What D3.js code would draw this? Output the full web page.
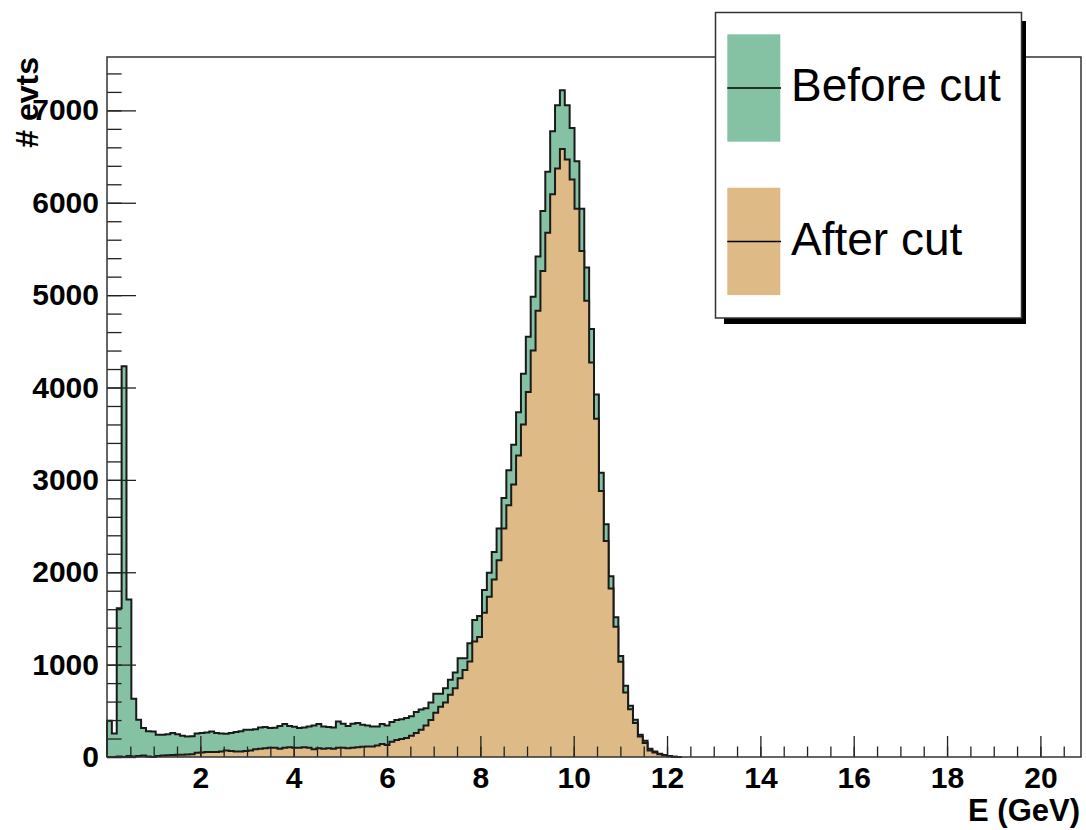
<!DOCTYPE html>
<html>
<head>
<meta charset="utf-8">
<script src="https://cdn.jsdelivr.net/npm/d3@7/dist/d3.min.js"></script>
<style>
  html, body { margin: 0; padding: 0; background: #ffffff; }
  svg { display: block; }
  text { font-family: "Liberation Sans", Arial, Helvetica, sans-serif; }
</style>
</head>
<body>
<svg id="chart" width="1086" height="830"></svg>
<script>
// ---------------- data ----------------
const xMin = 0, xMax = 20.87, nBins = 200;
const seriesNames = ["Before cut", "After cut"];
// bin contents (bins 0..117, remaining bins empty)
const beforeCut = [
  392, 255, 1609, 4229, 1706, 630, 403, 313, 280, 277,
  241, 241, 245, 259, 245, 230, 222, 225, 255, 259,
  265, 277, 259, 255, 252, 259, 270, 280, 295, 295,
  300, 320, 324, 313, 318, 335, 356, 335, 328, 313,
  320, 331, 340, 356, 331, 325, 320, 385, 360, 335,
  360, 367, 349, 340, 331, 331, 356, 340, 380, 400,
  410, 421, 440, 486, 515, 529, 590, 684, 684, 745,
  835, 914, 1069, 1069, 1231, 1483, 1526, 1807, 1994, 2220,
  2473, 2804, 3103, 3380, 3732, 4150, 4550, 4982, 5417, 5910,
  6335, 6774, 7055, 7217, 7055, 6810, 6450, 5935, 5298, 4633,
  3923, 3078, 2519, 1958, 1512, 1094, 770, 554, 403, 241,
  176, 90, 60, 36, 22, 10, 4, 0
];
const afterCut = [
  0, 0, 5, 0, 10, 5, 10, 15, 5, 0,
  10, 15, 20, 22, 25, 25, 28, 30, 45, 50,
  55, 55, 55, 60, 70, 65, 60, 60, 65, 70,
  85, 90, 95, 100, 100, 90, 100, 105, 100, 100,
  105, 100, 85, 95, 90, 95, 90, 100, 100, 95,
  100, 105, 110, 115, 115, 125, 140, 130, 165, 185,
  195, 205, 230, 260, 295, 340, 400, 480, 545, 590,
  673, 745, 853, 943, 1033, 1250, 1300, 1562, 1734, 1922,
  2131, 2473, 2725, 2951, 3265, 3600, 3950, 4400, 4830, 5262,
  5676, 6091, 6372, 6583, 6469, 6253, 5935, 5478, 4938, 4272,
  3661, 2879, 2339, 1825, 1410, 1032, 698, 518, 367, 222,
  151, 71, 50, 30, 18, 8, 3, 0
];
const xMajorTicks = [2, 4, 6, 8, 10, 12, 14, 16, 18, 20];
const yMajorTicks = [0, 1000, 2000, 3000, 4000, 5000, 6000, 7000];
const xTitle = "E (GeV)";
const yTitle = "# evts";

// ---------------- layout ----------------
const svg = d3.select("#chart");
const frame = { left: 107, right: 1081, top: 57, bottom: 757 };
const fillBefore = "rgb(133,194,163)";
const fillAfter = "rgb(222,186,135)";

const yMax = 1.05 * d3.max(beforeCut);
const x = d3.scaleLinear().domain([xMin, xMax]).range([frame.left, frame.right]);
const y = d3.scaleLinear().domain([0, yMax]).range([frame.bottom, frame.top]);
const binW = (xMax - xMin) / nBins;

function stepPoints(vals) {
  const pts = [[xMin, 0]];
  vals.forEach((v, i) => {
    pts.push([xMin + i * binW, v]);
    pts.push([xMin + (i + 1) * binW, v]);
  });
  pts.push([xMin + vals.length * binW, 0]);
  return pts;
}
const line = d3.line().x(d => x(d[0])).y(d => y(d[1]));

[[beforeCut, fillBefore], [afterCut, fillAfter]].forEach(([vals, col]) => {
  const pts = stepPoints(vals);
  svg.append("path").attr("d", line(pts) + "Z")
    .attr("fill", col).attr("stroke", "none");
  svg.append("path").attr("d", line(pts))
    .attr("fill", "none").attr("stroke", "#1a1a1a")
    .attr("stroke-width", 2).attr("stroke-linejoin", "miter");
});

// ---------------- axes (drawn over histograms) ----------------
const yMinor = d3.range(0, yMax, 200);
const xMinor = d3.range(0.5, xMax, 0.5);

const gyMinor = svg.append("g").attr("transform", `translate(${frame.left},0)`)
  .call(d3.axisLeft(y).tickValues(yMinor).tickSizeInner(-14.6).tickSizeOuter(0).tickFormat(""));
const gy = svg.append("g").attr("transform", `translate(${frame.left},0)`)
  .call(d3.axisLeft(y).tickValues(yMajorTicks).tickSizeInner(-29).tickSizeOuter(0).tickPadding(8).tickFormat(d3.format("d")));
const gxMinor = svg.append("g").attr("transform", `translate(0,${frame.bottom})`)
  .call(d3.axisBottom(x).tickValues(xMinor).tickSizeInner(-10.5).tickSizeOuter(0).tickFormat(""));
const gx = svg.append("g").attr("transform", `translate(0,${frame.bottom})`)
  .call(d3.axisBottom(x).tickValues(xMajorTicks).tickSizeInner(-21).tickSizeOuter(0).tickPadding(10).tickFormat(d3.format("d")));

[gyMinor, gy, gxMinor, gx].forEach(g => {
  g.select(".domain").remove();
  g.selectAll(".tick line").attr("stroke", "#222").attr("stroke-width", 1.3);
  g.selectAll("text").attr("font-family", "'Liberation Sans', Arial, sans-serif")
    .attr("font-weight", "bold").attr("font-size", 30).attr("fill", "#000");
});

// frame
svg.append("rect")
  .attr("x", frame.left).attr("y", frame.top)
  .attr("width", frame.right - frame.left).attr("height", frame.bottom - frame.top)
  .attr("fill", "none").attr("stroke", "#333").attr("stroke-width", 1.5);

// axis titles
svg.append("text").attr("x", 1080).attr("y", 821)
  .attr("text-anchor", "end").attr("font-weight", "bold").attr("font-size", 31)
  .text(xTitle);
svg.append("text")
  .attr("transform", `translate(38,${frame.top}) rotate(-90)`)
  .attr("text-anchor", "end").attr("font-weight", "bold").attr("font-size", 32)
  .text(yTitle);

// ---------------- legend ----------------
const lg = svg.append("g");
lg.append("rect").attr("x", 724).attr("y", 21).attr("width", 302).attr("height", 303).attr("fill", "#000");
lg.append("rect").attr("x", 715.5).attr("y", 12.5).attr("width", 306).attr("height", 305.5)
  .attr("fill", "#fff").attr("stroke", "#333").attr("stroke-width", 1.5);
const entries = [
  { name: seriesNames[0], col: fillBefore, top: 34.3, base: 101 },
  { name: seriesNames[1], col: fillAfter, top: 187.7, base: 255 }
];
entries.forEach(e => {
  lg.append("rect").attr("x", 727.3).attr("y", e.top).attr("width", 53).attr("height", 107.4).attr("fill", e.col);
  lg.append("line").attr("x1", 727.3).attr("x2", 781).attr("y1", e.top + 53.7).attr("y2", e.top + 53.7)
    .attr("stroke", "#000").attr("stroke-width", 1.5);
  lg.append("text").attr("x", 791).attr("y", e.base).attr("font-size", 46).attr("fill", "#000").text(e.name);
});
</script>
</body>
</html>
